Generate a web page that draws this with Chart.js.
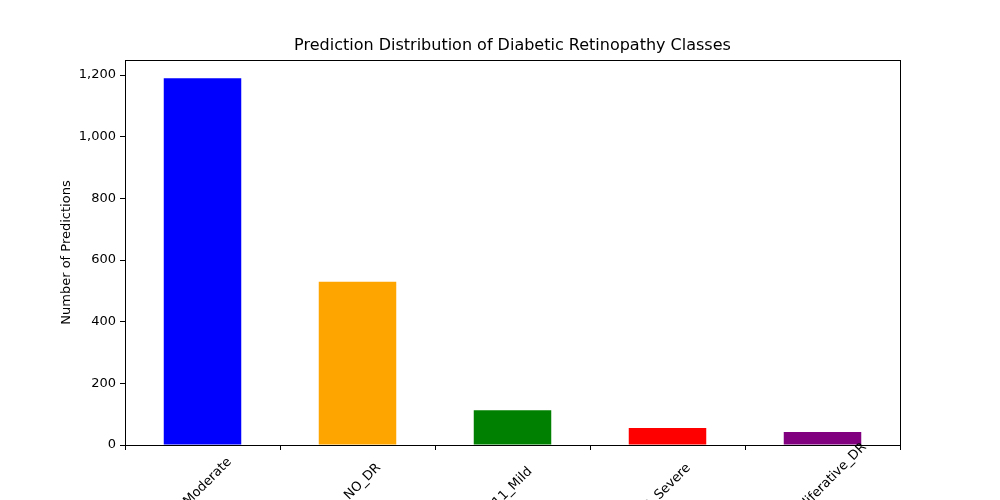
<!DOCTYPE html>
<html><head><meta charset="utf-8">
<script src="https://cdn.jsdelivr.net/npm/chart.js@4.4.1/dist/chart.umd.min.js"></script>
<style>html,body{margin:0;padding:0;background:#fff;overflow:hidden}#wrap{width:1000px;height:500px}</style>
</head><body><div id="wrap"><canvas id="c"></canvas></div>
<script>
const classes = ["2_Moderate", "0_NO_DR", "11_Mild", "3_Severe", "4_Proliferative_DR"];
const counts = [1190, 530, 113, 55, 42];
const barColors = ["blue", "orange", "green", "red", "purple"];
const yTicks = [0, 200, 400, 600, 800, 1000, 1200];

const FONT = "'DejaVu Sans', sans-serif";

// matplotlib-like extras: frame, centred rotated labels, titles
const extras = {
  id: "extras",
  afterDraw(chart) {
    const ctx = chart.ctx, a = chart.chartArea, x = chart.scales.x;
    ctx.save();
    ctx.strokeStyle = "#000"; ctx.lineWidth = 1;
    ctx.strokeRect(a.left + 0.5, a.top + 0.5, a.right - a.left, a.bottom - a.top);
    ctx.fillStyle = "#000";
    ctx.font = "13px " + FONT;
    classes.forEach((c, i) => {
      const px = x.getPixelForTick(i);
      ctx.save();
      ctx.translate(px, a.bottom + 42);
      ctx.rotate(-Math.PI / 4);
      ctx.textAlign = "center"; ctx.textBaseline = "middle";
      ctx.fillText(c, 0, 0);
      ctx.restore();
    });
    ctx.font = "16px " + FONT;
    ctx.textAlign = "center"; ctx.textBaseline = "middle";
    ctx.fillText("Prediction Distribution of Diabetic Retinopathy Classes", (a.left + a.right) / 2, 46);
    ctx.font = "13px " + FONT;
    ctx.translate(67, (a.top + a.bottom) / 2);
    ctx.rotate(-Math.PI / 2);
    ctx.fillText("Number of Predictions", 0, 0);
    ctx.restore();
  }
};

new Chart(document.getElementById("c"), {
  type: "bar",
  data: { labels: classes, datasets: [{ data: counts, backgroundColor: barColors, barPercentage: 0.5, categoryPercentage: 1 }] },
  options: {
    responsive: true, maintainAspectRatio: false, animation: false,
    layout: { padding: { top: 60, right: 100, left: 0, bottom: 0 } },
    plugins: { legend: { display: false }, tooltip: { enabled: false } },
    scales: {
      x: {
        grid: { display: true, drawOnChartArea: false, color: "#000", tickLength: 5 },
        border: { color: "#000" },
        ticks: { display: false },
        afterFit(s) { s.height = 55; }
      },
      y: {
        min: 0, max: 1249,
        grid: { display: true, drawOnChartArea: false, color: "#000", tickLength: 5 },
        border: { color: "#000" },
        afterBuildTicks(s) { s.ticks = yTicks.map(v => ({ value: v })); },
        ticks: { color: "#000", font: { family: FONT, size: 13 }, padding: 4 },
        afterFit(s) { s.width = 125; }
      }
    }
  },
  plugins: [extras]
});
</script></body></html>
